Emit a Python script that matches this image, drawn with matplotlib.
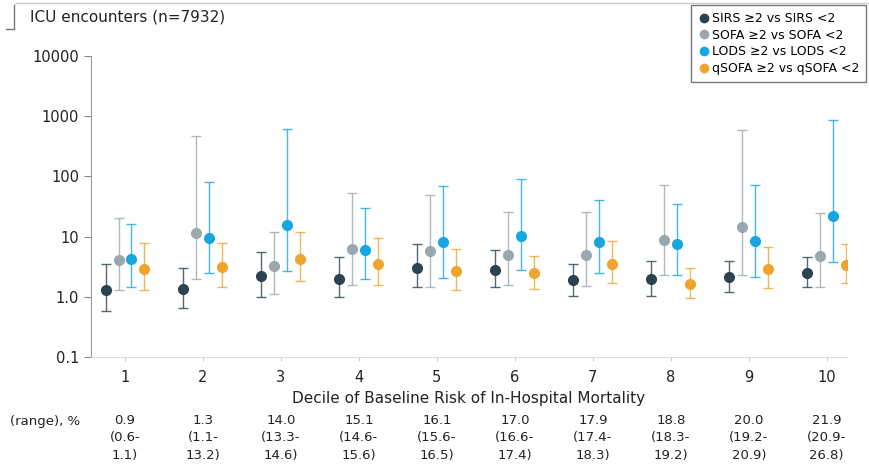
import numpy as np
import matplotlib
matplotlib.use("Agg")
import matplotlib.pyplot as plt
from matplotlib.lines import Line2D

# deciles and risk labels
deciles = [1, 2, 3, 4, 5, 6, 7, 8, 9, 10]
risk_mean = ["0.9", "1.3", "14.0", "15.1", "16.1", "17.0", "17.9", "18.8", "20.0", "21.9"]
risk_lo = ["(0.6-", "(1.1-", "(13.3-", "(14.6-", "(15.6-", "(16.6-", "(17.4-", "(18.3-", "(19.2-", "(20.9-"]
risk_hi = ["1.1)", "13.2)", "14.6)", "15.6)", "16.5)", "17.4)", "18.3)", "19.2)", "20.9)", "26.8)"]

# odds ratios (point, lower, upper) per score
sirs = [1.3, 1.37, 2.2, 2.0, 3.0, 2.8, 1.87, 2.0, 2.15, 2.47]
sirs_lo = [0.59, 0.66, 1.0, 1.0, 1.47, 1.48, 1.04, 1.05, 1.21, 1.45]
sirs_hi = [3.5, 3.0, 5.6, 4.6, 7.6, 5.9, 3.5, 4.0, 4.0, 4.6]

sofa = [4.1, 11.4, 3.2, 6.2, 5.7, 5.0, 5.0, 8.7, 14.5, 4.8]
sofa_lo = [1.3, 1.97, 1.12, 1.6, 1.47, 1.58, 1.54, 2.3, 2.3, 1.48]
sofa_hi = [20, 470, 12, 52, 49, 26, 26, 73, 580, 25]

lods = [4.2, 9.6, 15.3, 6.0, 8.1, 10.4, 8.0, 7.4, 8.5, 21.6]
lods_lo = [1.48, 2.5, 2.7, 2.0, 2.07, 2.8, 2.5, 2.3, 2.17, 3.77]
lods_hi = [16, 81, 610, 30, 70, 90, 40, 35, 72, 870]

qsofa = [2.95, 3.15, 4.3, 3.5, 2.7, 2.5, 3.45, 1.66, 2.9, 3.4]
qsofa_lo = [1.3, 1.48, 1.8, 1.56, 1.3, 1.37, 1.69, 0.96, 1.39, 1.69]
qsofa_hi = [7.8, 7.8, 12, 9.3, 6.3, 4.8, 8.3, 3.0, 6.7, 7.6]

labels = ["SIRS \u22652 vs SIRS <2", "SOFA \u22652 vs SOFA <2",
          "LODS \u22652 vs LODS <2", "qSOFA \u22652 vs qSOFA <2"]
colors = ["#2b4250", "#9aa8ae", "#17a6df", "#efa42e"]
offsets = [-0.25, -0.083, 0.083, 0.25]

plt.rcParams['font.family'] = ['DejaVu Sans']
fig = plt.figure(figsize=(8.69, 4.76), dpi=100)
ax = fig.add_axes([91 / 869, 1 - 357 / 476, (847 - 91) / 869, (357 - 56) / 476])

series = [(sirs, sirs_lo, sirs_hi), (sofa, sofa_lo, sofa_hi),
          (lods, lods_lo, lods_hi), (qsofa, qsofa_lo, qsofa_hi)]
x = np.array(deciles, dtype=float)
handles = []
for (pt, lo, hi), col, off, lab in zip(series, colors, offsets, labels):
    pt = np.array(pt)
    yerr = [pt - np.array(lo), np.array(hi) - pt]
    eb = ax.errorbar(x + off, pt, yerr=yerr, fmt='none', ecolor=col,
                     elinewidth=1.0, capsize=3.5, capthick=1.0, alpha=0.8)
    ax.plot(x + off, pt, 'o', color=col, markersize=7, zorder=3)
    handles.append(Line2D([], [], marker='o', ls='none', color=col, markersize=6, label=lab))

ax.set_yscale('log')
ax.set_ylim(0.1, 10000)
ax.set_xlim(0.564, 10.26)
ax.set_yticks([0.1, 1, 10, 100, 1000, 10000])
ax.set_yticklabels(["0.1", "1.0", "10", "100", "1000", "10000"])
ax.minorticks_off()
ax.set_xticks(deciles)
ax.set_xticklabels([str(d) for d in deciles])
ax.tick_params(axis='y', length=5, color='#888888', labelsize=10.5, labelcolor='#222222')
ax.tick_params(axis='x', length=3, color='#cccccc', labelsize=10.5, labelcolor='#222222', pad=6)
for s in ['top', 'right']:
    ax.spines[s].set_visible(False)
ax.spines['left'].set_color('#999999')
ax.spines['bottom'].set_color('#dddddd')
ax.set_xlabel("Decile of Baseline Risk of In-Hospital Mortality", fontsize=11,
              color='#222222', labelpad=5)

leg = ax.legend(handles=handles, loc='upper right', bbox_to_anchor=(866 / 869, 1 - 5 / 476),
                bbox_transform=fig.transFigure, frameon=True, fancybox=False,
                fontsize=9, handletextpad=0.1, borderpad=0.55, labelspacing=0.3,
                handlelength=1.0, edgecolor='#555555', borderaxespad=0)
leg.get_frame().set_linewidth(1.0)

# header
fig.text(30 / 869, 1 - 17 / 476, "ICU encounters (n=7932)", fontsize=11,
         va='center', ha='left', color='#222222')
fig.add_artist(Line2D([15 / 869, 1], [1 - 3 / 476] * 2, color='#cccccc', lw=1))
fig.add_artist(Line2D([14 / 869] * 2, [1 - 5 / 476, 1 - 29 / 476], color='#777777', lw=1))
fig.add_artist(Line2D([6 / 869, 14 / 869], [1 - 29 / 476] * 2, color='#777777', lw=1))

# risk range rows
fig.text(10 / 869, 1 - 421 / 476, "(range), %", fontsize=9.5, va='center', ha='left', color='#222222')
for d, m, lo, hi in zip(deciles, risk_mean, risk_lo, risk_hi):
    xf = ax.transData.transform((d, 1))[0] / fig.bbox.width
    fig.text(xf, 1 - 421 / 476, m, fontsize=9.5, va='center', ha='center', color='#222222')
    fig.text(xf, 1 - 438 / 476, lo, fontsize=9.5, va='center', ha='center', color='#222222')
    fig.text(xf, 1 - 455 / 476, hi, fontsize=9.5, va='center', ha='center', color='#222222')

fig.savefig("out.png", dpi=100)
